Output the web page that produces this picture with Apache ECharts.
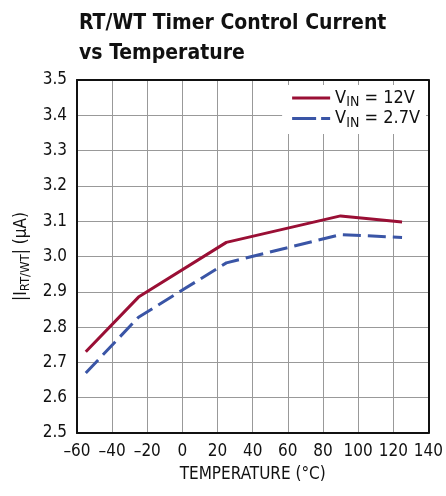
<!DOCTYPE html>
<html>
<head>
<meta charset="utf-8">
<script src="https://cdn.jsdelivr.net/npm/echarts@6/dist/echarts.min.js"></script>
<style>
html,body{margin:0;padding:0;background:#fff;}
#c{width:446px;height:496px;}
</style>
</head>
<body>
<div id="c"></div>
<script>
const temperatures = [-55, -25, 25, 90, 125];
const vin12V = [2.73, 2.885, 3.04, 3.115, 3.098];
const vin27V = [2.67, 2.828, 2.982, 3.062, 3.054];
const seriesNames = ['V{sub|IN} = 12V', 'V{sub|IN} = 2.7V'];
const titleText = 'RT/WT Timer Control Current\nvs Temperature';
const xName = 'TEMPERATURE (°C)';
const yName = '|I{sub|RT/WT}| (µA)';

const FONT = '"Liberation Sans Narrow", "DejaVu Sans Condensed", "Liberation Sans", sans-serif';
const chart = echarts.init(document.getElementById('c'), null, {renderer: 'canvas'});
const pair = (xs, ys) => xs.map((x, i) => [x, ys[i]]);
const frameAxis = {
  type: 'value',
  axisLine: {show: true, onZero: false, lineStyle: {color: '#111', width: 2}},
  axisTick: {show: false},
  axisLabel: {show: false},
  splitLine: {show: false}
};

chart.setOption({
  animation: false,
  backgroundColor: '#fff',
  title: {
    text: titleText,
    left: 74,
    top: 4,
    textStyle: {fontFamily: FONT, fontWeight: 'bold', fontSize: 21, lineHeight: 30, color: '#111'}
  },
  grid: {left: 77, right: 16, top: 80, bottom: 63},
  legend: {
    orient: 'vertical',
    right: 20,
    top: 85,
    backgroundColor: '#fff',
    padding: [4, 6, 4, 10],
    itemGap: 0,
    itemWidth: 38,
    itemHeight: 3,
    data: [
      {name: seriesNames[0], icon: 'path://M0,0H38V3H0Z'},
      {name: seriesNames[1], icon: 'path://M0,0H24V3H0Z M29,0H38V3H29Z'}
    ],
    textStyle: {
      fontFamily: FONT, fontSize: 18, color: '#111',
      rich: {sub: {fontFamily: FONT, fontSize: 14, padding: [9, 0, 0, 0], color: '#111'}}
    }
  },
  xAxis: [{
    type: 'value',
    min: -60, max: 140, interval: 20,
    name: xName,
    nameLocation: 'middle',
    nameGap: 33,
    nameTextStyle: {fontFamily: FONT, fontSize: 17, color: '#111'},
    axisLine: {show: true, onZero: false, lineStyle: {color: '#111', width: 2}},
    axisTick: {show: false},
    axisLabel: {
      fontFamily: FONT, fontSize: 17, color: '#111', margin: 10,
      formatter: v => (v < 0 ? '\u2013' + Math.abs(v) : String(v))
    },
    splitLine: {show: true, lineStyle: {color: '#999', width: 1}}
  }, Object.assign({position: 'top', min: -60, max: 140}, frameAxis)],
  yAxis: [{
    type: 'value',
    min: 2.5, max: 3.5, interval: 0.1,
    name: yName,
    nameLocation: 'middle',
    nameGap: 41,
    nameRotate: 90,
    nameTextStyle: {
      fontFamily: FONT, fontSize: 17, color: '#111',
      rich: {sub: {fontFamily: FONT, fontSize: 13, padding: [8, 0, 0, 0], color: '#111'}}
    },
    axisLine: {show: true, onZero: false, lineStyle: {color: '#111', width: 2}},
    axisTick: {show: false},
    axisLabel: {
      fontFamily: FONT, fontSize: 17, color: '#111', margin: 10,
      formatter: v => v.toFixed(1)
    },
    splitLine: {show: true, lineStyle: {color: '#999', width: 1}}
  }, Object.assign({position: 'right', min: 2.5, max: 3.5}, frameAxis)],
  series: [
    {
      name: seriesNames[0], type: 'line', symbol: 'none',
      data: pair(temperatures, vin12V),
      lineStyle: {color: '#9a0f35', width: 3},
      itemStyle: {color: '#9a0f35'}
    },
    {
      name: seriesNames[1], type: 'line', symbol: 'none',
      data: pair(temperatures, vin27V),
      lineStyle: {color: '#3a55a6', width: 3, type: [18, 7]},
      itemStyle: {color: '#3a55a6'}
    }
  ]
});
</script>
</body>
</html>
